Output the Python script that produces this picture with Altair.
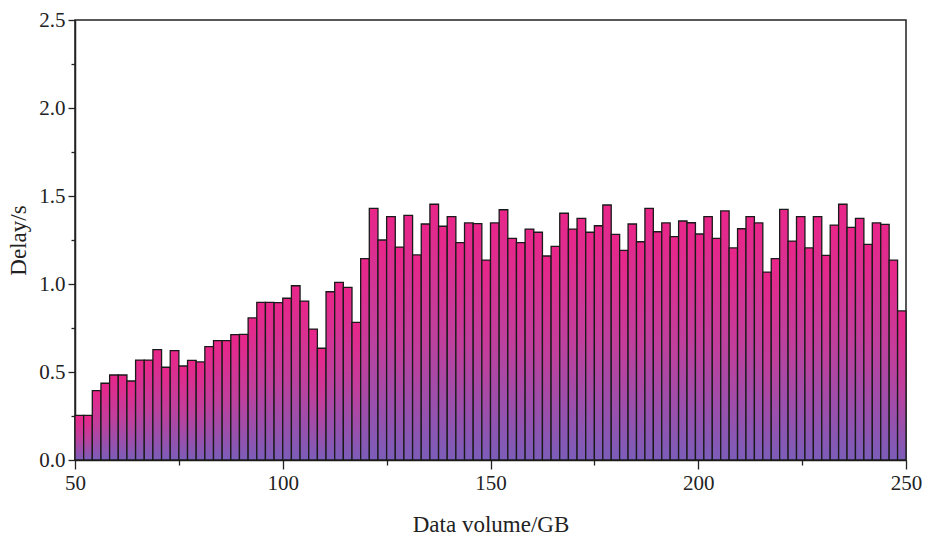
import altair as alt
import numpy as np
import pandas as pd

# Delay (s) per data-volume bin (left to right)
delay = [
    0.254, 0.254, 0.394, 0.436, 0.483, 0.483, 0.449, 0.568, 0.568, 0.627, 0.527, 0.621,
    0.534, 0.566, 0.557, 0.644, 0.678, 0.678, 0.712, 0.714, 0.807, 0.896, 0.896, 0.894,
    0.919, 0.990, 0.903, 0.744, 0.635, 0.956, 1.009, 0.981, 0.782, 1.144, 1.430, 1.250,
    1.383, 1.210, 1.390, 1.165, 1.341, 1.453, 1.328, 1.383, 1.235, 1.347, 1.343, 1.136,
    1.347, 1.422, 1.259, 1.235, 1.312, 1.294, 1.159, 1.214, 1.402, 1.312, 1.373, 1.294,
    1.331, 1.449, 1.282, 1.191, 1.341, 1.240, 1.430, 1.297, 1.347, 1.269, 1.358, 1.348,
    1.284, 1.383, 1.259, 1.415, 1.205, 1.314, 1.383, 1.347, 1.068, 1.144, 1.424, 1.244,
    1.383, 1.205, 1.383, 1.163, 1.335, 1.453, 1.322, 1.373, 1.225, 1.347, 1.339, 1.136,
    0.847,
]

# Bin layout: 60 bins over 50-175 GB, 37 bins over 175-250 GB
seg_edges = [50, 175, 250]
seg_counts = [60, 37]

x_ticks = [50, 75, 100, 125, 150, 175, 200, 225, 250]
y_ticks = [0, 0.25, 0.5, 0.75, 1.0, 1.25, 1.5, 1.75, 2.0, 2.25, 2.5]

edges = np.concatenate([
    np.linspace(seg_edges[0], seg_edges[1], seg_counts[0] + 1)[:-1],
    np.linspace(seg_edges[1], seg_edges[2], seg_counts[1] + 1),
])
df = pd.DataFrame({"start": edges[:-1], "end": edges[1:], "delay": delay})

FONT = "Liberation Serif"

grad = alt.Gradient(
    gradient="linear",
    stops=[
        alt.GradientStop(color="#EA2589", offset=0),
        alt.GradientStop(color="#C03F9C", offset=0.5),
        alt.GradientStop(color="#7B5DB9", offset=1),
    ],
    x1=0, x2=0, y1=0, y2=1,
)

chart = (
    alt.Chart(df)
    .mark_bar(fill=grad, stroke="#1a1a1a", strokeWidth=1.3)
    .encode(
        x=alt.X(
            "start:Q",
            scale=alt.Scale(domain=[50, 250], nice=False, zero=False),
            axis=alt.Axis(
                values=x_ticks,
                labelExpr="datum.value % 50 === 0 ? datum.label : ''",
                tickSize={"condition": {"test": "datum.value % 50 === 0", "value": 9}, "value": 5},
                title="Data volume/GB",
                titlePadding=20,
                labelPadding=3,
                labelFlush=False,
            ),
        ),
        x2="end:Q",
        y=alt.Y(
            "delay:Q",
            scale=alt.Scale(domain=[0, 2.5], nice=False),
            axis=alt.Axis(
                values=y_ticks,
                format=".1f",
                labelExpr="datum.value % 0.5 === 0 ? datum.label : ''",
                tickSize={"condition": {"test": "datum.value % 0.5 === 0", "value": 7}, "value": 4},
                title="Delay/s",
                titlePadding=8,
                labelPadding=3,
                labelFlush=False,
            ),
        ),
        y2=alt.datum(0),
    )
    .properties(
        width=831,
        height=440,
        background="white",
        autosize=alt.AutoSizeParams(type="none"),
        padding={"left": 75, "top": 20, "right": 21, "bottom": 89},
    )
    .configure_view(stroke="#222222", strokeWidth=1.5)
    .configure_axis(
        grid=False,
        domainColor="#222222",
        domainWidth=1.5,
        tickColor="#222222",
        tickWidth=1.3,
        labelFont=FONT,
        labelFontSize=21,
        labelColor="#222222",
        titleFont=FONT,
        titleFontSize=23,
        titleFontWeight="normal",
        titleColor="#222222",
    )
)

chart.save("out.html", embed_options={"renderer": "svg", "actions": False})
